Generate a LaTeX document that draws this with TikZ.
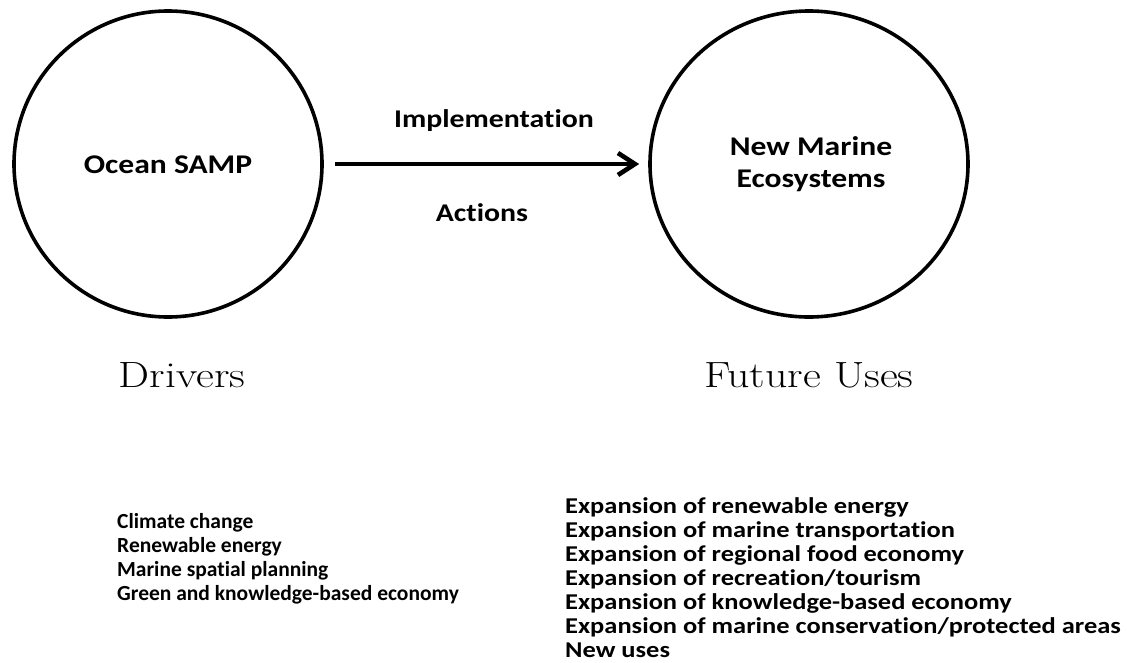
\documentclass[tikz,border=0pt]{standalone}
\usepackage{fontspec}
\newfontfamily\carlitofont[FakeStretch=1.17,Ligatures=NoCommon]{Carlito}
\newfontfamily\carlitoplain[Ligatures=NoCommon]{Carlito}
\newfontfamily\headfont[FakeStretch=1.2]{Latin Modern Roman}
\usetikzlibrary{arrows.meta,shapes.geometric}
\tikzset{
  blob/.style={draw=black,line width=3.6pt,ellipse,minimum height=306pt,inner sep=0pt},
  lbl/.style={font=\carlitofont\bfseries\fontsize{25.5}{30}\selectfont,inner sep=0pt,anchor=base},
  clbl/.style={font=\carlitofont\bfseries\fontsize{27}{32}\selectfont,inner sep=0pt,align=center},
  head/.style={font=\headfont\fontsize{36.5}{40}\selectfont,inner sep=0pt,anchor=base},
  lst/.style={inner sep=0pt,anchor=north west,align=left}
}
\begin{document}
\begin{tikzpicture}[x=1pt,y=-1pt]
\useasboundingbox (0,0) rectangle (1128,662);
\node[blob,minimum width=308pt] (ocean) at (168,164) {};
\node[blob,minimum width=318pt] (nme) at (809,164) {};
\node[clbl,anchor=base] (oceanlbl) at (168,173) {Ocean SAMP};
\node[clbl] (nmelbl) at (811,164) {New Marine\\Ecosystems};
\draw[line width=4.6pt,-{Straight Barb[length=17pt,width=22pt,line width=4.6pt]}] ([xshift=11pt]ocean.east) -- ([xshift=-9pt]nme.west);
\node[lbl] (impl) at (494,127) {Implementation};
\node[lbl] (act) at (482,221) {Actions};
\node[head] (drv) at (182,387) {Drivers};
\node[head] (fu) at (809,387) {Future Uses};
\node[lst,font=\carlitoplain\bfseries\fontsize{21.5}{24}\selectfont] (dl) at (117,513) {Climate change\\Renewable energy\\Marine spatial planning\\Green and knowledge-based economy};
\node[lst,font=\carlitofont\bfseries\fontsize{22.6}{24}\selectfont] (fl) at (565,497) {Expansion of renewable energy\\Expansion of marine transportation\\Expansion of regional food economy\\Expansion of recreation/tourism\\Expansion of knowledge-based economy\\Expansion of marine conservation/protected areas\\New uses};
\end{tikzpicture}
\end{document}
